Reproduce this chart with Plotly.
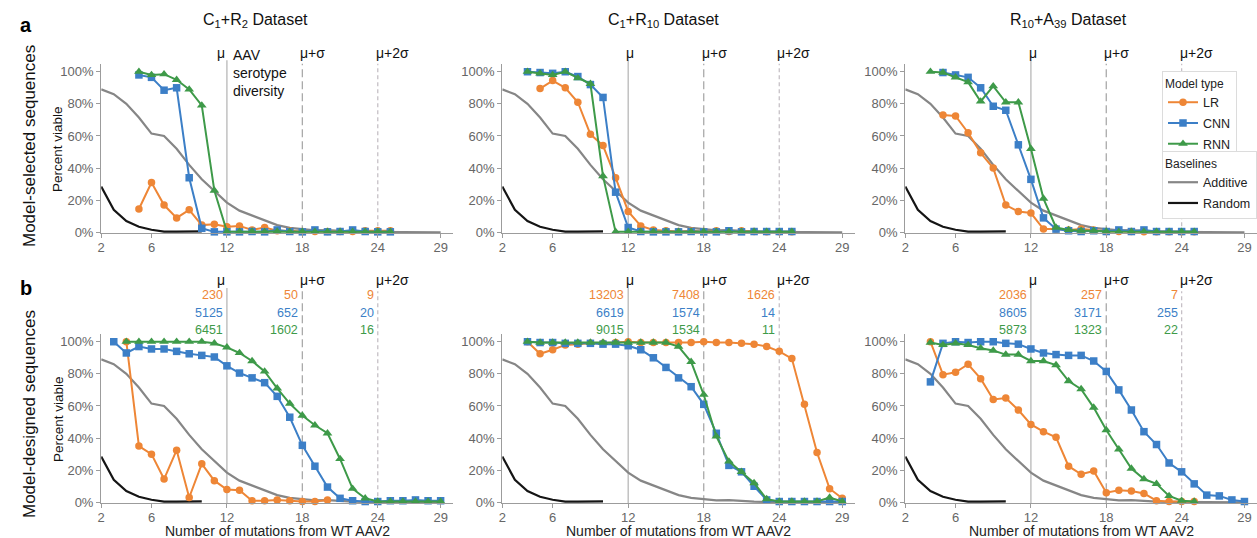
import plotly.graph_objects as go
from plotly.subplots import make_subplots

# ---------------- data ----------------
mutations = list(range(2, 30))
additive = [89, 86, 80, 71.5, 61.5, 60, 52, 42, 33, 26, 18.5, 13.5, 10.5, 7,
            4.5, 2.8, 1.8, 1.2, 1.4, 0.8, 0.4, 0.3, 0.2, 0.1, 0.1, 0.1, 0.05, 0.0]
random_x = list(range(2, 11))
random_pct = [28.5, 14, 7, 3.5, 1.6, 0.5, 0.4, 0.3, 0.6]

dataset_titles = ["C<sub>1</sub>+R<sub>2</sub> Dataset",
                  "C<sub>1</sub>+R<sub>10</sub> Dataset",
                  "R<sub>10</sub>+A<sub>39</sub> Dataset"]
x_ticks = [2, 6, 12, 18, 24, 29]
y_ticks = [0, 20, 40, 60, 80, 100]
y_ticktext = ["0%", "20%", "40%", "60%", "80%", "100%"]
mu_lines = [12, 18, 24]
mu_labels = ["μ", "μ+σ", "μ+2σ"]

# model-selected sequences: (first mutation count, percent viable)
sel_c1r2_lr = (5, [14.5, 31, 17, 9, 14, 4.5, 5, 3.5, 4, 1.5, 3, 1, 1, 0.5, 0.5, 0.5, 0.5, 0.5, 1, 1, 1])
sel_c1r2_cnn = (5, [98, 96.5, 88.5, 90, 34, 2.5, 0.3, 0.3, 0.3, 0.5, 0.3, 1.5, 0.5, 0.3, 1.5, 0.3, 0.5, 1.5, 0.5, 0.3, 0.3])
sel_c1r2_rnn = (5, [100, 98, 98.5, 95, 89, 79, 26, 0.5, 0.3, 0.5, 0.3, 0.5, 0.3, 0.3, 0.3, 0.3, 0.3, 0.3, 0.3, 0.3, 0.3])

sel_c1r10_lr = (5, [89.5, 94.5, 90, 81, 61, 54, 34, 13, 4, 1.5, 1, 0.5, 1, 0.5, 1, 0.5, 1, 0.5, 0.3, 0.3, 0.3])
sel_c1r10_cnn = (4, [100, 99.5, 99, 100, 97, 92, 84, 25, 3, 0.5, 0.3, 0.3, 0.3, 0.5, 0.3, 0.3, 1, 0.3, 0.5, 0.5, 0.5, 0.5])
sel_c1r10_rnn = (4, [100, 99, 98, 100, 96, 92.5, 35, 0.3, 0.3, 0.3, 0.3, 0.3, 0.3, 0.3, 0.3, 0.3, 0.3, 0.3, 0.3, 0.3, 0.3, 0.3])

sel_r10a39_lr = (5, [73, 72.5, 62, 49.5, 40, 17, 13, 12, 2, 2, 1.5, 2, 1.5, 0.5, 0.5, 0.5, 0.3, 0.3, 0.3, 0.3, 0.3])
sel_r10a39_cnn = (5, [99.5, 98, 96.5, 90, 78.5, 76, 54.5, 33, 9, 2, 1, 0.5, 1, 0.5, 1.5, 0.5, 1.5, 0.5, 0.5, 0.5, 0.5])
sel_r10a39_rnn = (4, [100, 99.5, 96.5, 93.5, 81.5, 91, 81, 81, 52, 21, 3, 1.5, 1, 1, 0.5, 0.3, 0.3, 0.3, 0.3, 0.3, 0.3, 0.3])

# model-designed sequences
des_c1r2_lr = (4, [100, 35, 30, 14.5, 32.5, 3, 24, 13.5, 8, 7.5, 1, 1, 1.5, 1, 0.5, 0.5, 1.5])
des_c1r2_cnn = (3, [100, 93, 97, 95.5, 95.5, 94, 92.5, 91.5, 90.5, 85, 80.5, 77.5, 74.5, 66, 53, 35.5,
                    22.5, 9.5, 2.5, 1, 0.5, 0.5, 1, 1, 1.5, 1, 1])
des_c1r2_rnn = (4, [100, 100, 100, 100, 100, 100, 100, 99, 96.5, 93, 88, 81.5, 71, 61.5, 54, 48, 43,
                    27, 8.5, 2.5, 0.5, 0.5, 0.5, 0.5, 0.5, 0.5])

des_c1r10_lr = (4, [100, 92.5, 95, 98, 98.5, 99, 99, 99.5, 100, 99.5, 99.5, 99.5, 99.5, 99.5, 100, 99.5,
                    99.5, 99, 98.5, 97, 94, 89.5, 61, 31, 8.5, 2.5])
des_c1r10_cnn = (4, [100, 99.5, 99.5, 99, 99, 99, 98.5, 98.5, 97.5, 95, 90, 84, 77.5, 72, 61, 43, 23, 19,
                     10, 1.5, 0.5, 0.5, 0.5, 0.5, 0.5, 0.5])
des_c1r10_rnn = (4, [100, 99.5, 99.5, 99.5, 99.5, 99.5, 99.5, 99.5, 99.5, 99.5, 99.5, 99.5, 97, 87.5, 67,
                     41, 25.5, 19, 12, 2, 0.5, 0.5, 0.5, 0.5, 3, 0.5])

des_r10a39_lr = (4, [100, 79.5, 81, 86, 77, 64, 65, 57.5, 48.5, 44, 40.5, 22.5, 17.5, 19.5, 6, 7.5, 7,
                     5.5, 1, 0.5, 0.5, 0.5])
des_r10a39_cnn = (4, [75, 99, 100, 99.5, 100, 100, 99, 98.5, 95.5, 93, 92, 91.5, 91.5, 88, 81.5, 70, 57.5,
                      44, 36, 24.5, 19, 11.5, 4.5, 4, 1.5, 0.5])
des_r10a39_rnn = (4, [99.5, 98, 99, 98, 96, 94.5, 92, 92, 88, 88, 85.5, 75.5, 70.5, 59, 45, 33, 21, 14.5,
                      11.5, 4, 1, 0.5])

# sequence counts beyond mu, mu+sigma, mu+2sigma (LR, CNN, RNN)
counts_c1r2 = [["230", "50", "9"], ["5125", "652", "20"], ["6451", "1602", "16"]]
counts_c1r10 = [["13203", "7408", "1626"], ["6619", "1574", "14"], ["9015", "1534", "11"]]
counts_r10a39 = [["2036", "257", "7"], ["8605", "3171", "255"], ["5873", "1323", "22"]]

# ---------------- styling ----------------
ORANGE = "#EE8636"
BLUE = "#3C7FC7"
GREEN = "#3E9A49"
ADD_GREY = "#868686"
RAND_BLACK = "#151515"
AXIS_GREY = "#9c9c9c"
TICK_TEXT = "#666666"
FONT = "Liberation Sans, Arial, Helvetica, sans-serif"
W, H = 1257, 538

model_styles = [("LR", ORANGE, "circle", 7.5),
                ("CNN", BLUE, "square", 7.5),
                ("RNN", GREEN, "triangle-up", 8.5)]

selected = [(sel_c1r2_lr, sel_c1r2_cnn, sel_c1r2_rnn),
            (sel_c1r10_lr, sel_c1r10_cnn, sel_c1r10_rnn),
            (sel_r10a39_lr, sel_r10a39_cnn, sel_r10a39_rnn)]
designed = [(des_c1r2_lr, des_c1r2_cnn, des_c1r2_rnn),
            (des_c1r10_lr, des_c1r10_cnn, des_c1r10_rnn),
            (des_r10a39_lr, des_r10a39_cnn, des_r10a39_rnn)]
counts = [counts_c1r2, counts_c1r10, counts_r10a39]

# pixel layout of the panels
x_dom_px = [(101.2, 453.2), (502.3, 854.8), (905.3, 1257)]
y_dom_px = [(63.7, 233.3), (333.7, 503.3)]   # (top, bottom) per row


def px_x(p):
    return p / W


def px_y(p):
    return 1 - p / H


fig = make_subplots(rows=2, cols=3)

for r, rows_data in enumerate([selected, designed]):
    for c in range(3):
        show = (r == 0 and c == 2)
        # baselines
        fig.add_trace(go.Scatter(
            x=mutations, y=additive, mode="lines", name="Additive", legendgroup="Additive",
            line=dict(color=ADD_GREY, width=2.2),
            legend="legend2", showlegend=show, hoverinfo="skip"),
            row=r + 1, col=c + 1)
        fig.add_trace(go.Scatter(
            x=random_x, y=random_pct, mode="lines", name="Random", legendgroup="Random",
            line=dict(color=RAND_BLACK, width=2.2),
            legend="legend2", showlegend=show, hoverinfo="skip"),
            row=r + 1, col=c + 1)
        # models
        for (name, color, symbol, size), (start, vals) in zip(model_styles, rows_data[c]):
            fig.add_trace(go.Scatter(
                x=list(range(start, start + len(vals))), y=vals,
                mode="lines+markers", name=name, legendgroup=name,
                line=dict(color=color, width=2),
                marker=dict(color=color, symbol=symbol, size=size),
                cliponaxis=False,
                legend="legend", showlegend=show),
                row=r + 1, col=c + 1)

annotations = []
shapes = []

for r in range(2):
    top_px, bot_px = y_dom_px[r]
    for c in range(3):
        n = r * 3 + c + 1
        axs = "" if n == 1 else str(n)
        x0, x1 = x_dom_px[c]
        fig.layout[f"xaxis{axs}"].update(
            domain=[px_x(x0), min(px_x(x1), 1.0)], range=[2, 30],
            tickmode="array", tickvals=x_ticks, ticks="outside", ticklen=4,
            ticklabelstandoff=-2,
            tickcolor=AXIS_GREY, showline=True, linecolor=AXIS_GREY, linewidth=1.3,
            showgrid=False, zeroline=False, automargin=False,
            tickfont=dict(family=FONT, size=13, color=TICK_TEXT))
        fig.layout[f"yaxis{axs}"].update(
            domain=[px_y(bot_px), px_y(top_px)], range=[-0.6, 105],
            tickmode="array", tickvals=y_ticks, ticktext=y_ticktext,
            ticks="outside", ticklen=4, tickcolor=AXIS_GREY,
            showline=True, linecolor=AXIS_GREY, linewidth=1.3,
            showgrid=False, zeroline=False, automargin=False,
            tickfont=dict(family=FONT, size=13, color=TICK_TEXT))

        # reference lines at mean serotype diversity
        line_top = [1.02, 1.27][r]
        for xv, style in zip(mu_lines, [("#b8b8b8", "solid"), ("#aaaaaa", "8px,4px"), ("#c6c0c6", "4px,3px")]):
            shapes.append(dict(type="line", xref=f"x{axs}", yref=f"y{axs} domain",
                               x0=xv, x1=xv, y0=0, y1=line_top if xv == 12 else line_top - 0.02,
                               line=dict(color=style[0], width=1.3, dash=style[1]), layer="below"))
        label_y = px_y([53, 280][r])
        for i, (xv, lab) in enumerate(zip(mu_lines, mu_labels)):
            first = (c == 0 and i == 0)
            annotations.append(dict(
                x=xv, y=label_y, xref=f"x{axs}", yref="paper", text=lab, showarrow=False,
                xanchor="right" if first else "left", yanchor="middle",
                xshift=0 if first else -4,
                font=dict(family=FONT, size=14, color="#111111")))
        if r == 0 and c == 0:
            annotations.append(dict(
                x=12, y=px_y(45), xref="x", yref="paper",
                text="AAV<br>serotype<br>diversity", showarrow=False, align="left",
                xanchor="left", yanchor="top", xshift=4,
                font=dict(family=FONT, size=14, color="#111111")))
        if r == 1:
            row_px = [295, 312.7, 330]
            for color, row_counts, ypx in zip([ORANGE, BLUE, GREEN], counts[c], row_px):
                for xv, txt in zip(mu_lines, row_counts):
                    annotations.append(dict(
                        x=xv, y=px_y(ypx), xref=f"x{axs}", yref="paper", text=txt,
                        showarrow=False, xanchor="right", yanchor="middle", xshift=-2,
                        font=dict(family=FONT, size=12.5, color=color)))
            annotations.append(dict(
                x=px_x((x0 + x1) / 2), y=px_y(530.5), xref="paper", yref="paper",
                text="Number of mutations from WT AAV2", showarrow=False,
                xanchor="center", yanchor="middle", borderpad=0,
                font=dict(family=FONT, size=14, color="#222222")))

# dataset titles
for title, cx in zip(dataset_titles, [255, 663, 1068]):
    annotations.append(dict(x=px_x(cx), y=px_y(20), xref="paper", yref="paper", text=title,
                            showarrow=False, xanchor="center", yanchor="middle",
                            font=dict(family=FONT, size=16, color="#111111")))

# panel letters and row labels
for letter, ypx in zip(["a", "b"], [25, 288]):
    annotations.append(dict(x=px_x(26), y=px_y(ypx), xref="paper", yref="paper",
                            text=f"<b>{letter}</b>", showarrow=False,
                            xanchor="center", yanchor="middle",
                            font=dict(family=FONT, size=20, color="#000000")))
for txt, ypx in zip(["Model-selected sequences", "Model-designed sequences"], [146, 414]):
    annotations.append(dict(x=px_x(29), y=px_y(ypx), xref="paper", yref="paper",
                            text=txt, showarrow=False, textangle=-90,
                            xanchor="center", yanchor="middle",
                            font=dict(family=FONT, size=17, color="#111111")))
for ypx in [149, 419]:
    annotations.append(dict(x=px_x(58), y=px_y(ypx), xref="paper", yref="paper",
                            text="Percent viable", showarrow=False, textangle=-90,
                            xanchor="center", yanchor="middle",
                            font=dict(family=FONT, size=13.5, color="#111111")))

legend_common = dict(xanchor="left", yanchor="top", bordercolor="#dcdcdc", borderwidth=1,
                     bgcolor="white", font=dict(family=FONT, size=12.5, color="#222"),
                     traceorder="grouped", tracegroupgap=1.5)
fig.update_layout(
    width=W, height=H,
    margin=dict(l=0, r=0, t=0, b=0),
    paper_bgcolor="white", plot_bgcolor="white",
    font=dict(family=FONT),
    annotations=annotations, shapes=shapes,
    legend=dict(title=dict(text="Model type", font=dict(family=FONT, size=12, color="#222")),
                x=px_x(1162), y=px_y(71), **legend_common),
    legend2=dict(title=dict(text="Baselines", font=dict(family=FONT, size=12, color="#222")),
                 x=px_x(1162), y=px_y(151), **legend_common),
)

fig.write_html("out.html")
